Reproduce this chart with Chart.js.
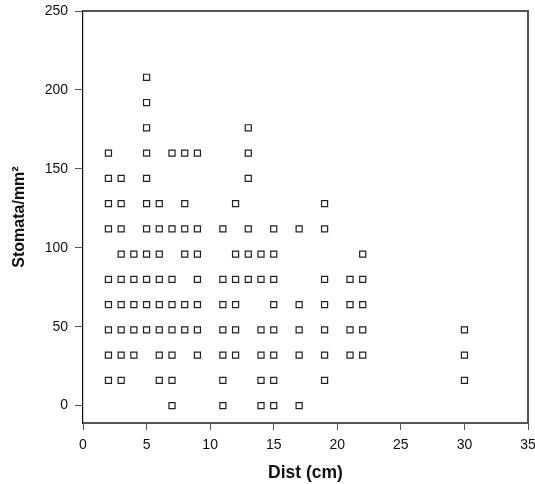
<!DOCTYPE html>
<html><head><meta charset="utf-8">
<script src="https://cdn.jsdelivr.net/npm/chart.js@4/dist/chart.umd.min.js"></script>
<style>html,body{margin:0;padding:0;background:#fff}canvas{display:block}</style>
</head><body>
<canvas id="c" width="535" height="484"></canvas>
<script>
// Distance (cm) of each sampled column
const distCm = [2, 3, 4, 5, 6, 7, 8, 9, 11, 12, 13, 14, 15, 17, 19, 21, 22, 30];
// Stomata/mm² observed at each distance (same order as distCm)
const stomataAt2  = [160, 144, 128, 112, 80, 64, 48, 32, 16];
const stomataAt3  = [144, 128, 112, 96, 80, 64, 48, 32, 16];
const stomataAt4  = [96, 80, 64, 48, 32];
const stomataAt5  = [208, 192, 176, 160, 144, 128, 112, 96, 80, 64, 48];
const stomataAt6  = [128, 112, 96, 80, 64, 48, 32, 16];
const stomataAt7  = [160, 112, 80, 64, 48, 32, 16, 0];
const stomataAt8  = [160, 128, 112, 96, 64, 48];
const stomataAt9  = [160, 112, 96, 80, 64, 48, 32];
const stomataAt11 = [112, 80, 64, 48, 32, 16, 0];
const stomataAt12 = [128, 96, 80, 64, 48, 32];
const stomataAt13 = [176, 160, 144, 112, 96, 80];
const stomataAt14 = [96, 80, 48, 32, 16, 0];
const stomataAt15 = [112, 96, 80, 64, 48, 32, 16, 0];
const stomataAt17 = [112, 64, 48, 32, 0];
const stomataAt19 = [128, 112, 80, 64, 48, 32, 16];
const stomataAt21 = [80, 64, 48, 32];
const stomataAt22 = [96, 80, 64, 48, 32];
const stomataAt30 = [48, 32, 16];
const stomataLists = [stomataAt2, stomataAt3, stomataAt4, stomataAt5, stomataAt6, stomataAt7,
  stomataAt8, stomataAt9, stomataAt11, stomataAt12, stomataAt13, stomataAt14, stomataAt15,
  stomataAt17, stomataAt19, stomataAt21, stomataAt22, stomataAt30];

const xTicks = [0, 5, 10, 15, 20, 25, 30, 35];
const yTicks = [0, 50, 100, 150, 200, 250];
const xTitle = 'Dist (cm)';
const yTitle = 'Stomata/mm\u00B2';

const points = [];
distCm.forEach((d, i) => stomataLists[i].forEach(v => points.push({x: d, y: v})));

const framePlugin = {
  id: 'frame',
  afterDraw(chart) {
    const a = chart.chartArea, ctx = chart.ctx;
    ctx.save();
    ctx.strokeStyle = '#555';
    ctx.lineWidth = 2;
    ctx.beginPath();
    ctx.moveTo(a.left, a.top);
    ctx.lineTo(a.right, a.top);
    ctx.lineTo(a.right, a.bottom);
    ctx.stroke();
    ctx.restore();
  }
};

const tickFont = {family: 'Liberation Sans, Arial, sans-serif', size: 14};

new Chart(document.getElementById('c'), {
  type: 'scatter',
  data: {
    datasets: [{
      data: points,
      pointStyle: 'rect',
      pointRadius: 4.3,
      pointBorderWidth: 1.2,
      pointBorderColor: '#222',
      pointBackgroundColor: '#fff',
      pointHoverRadius: 4.3
    }]
  },
  options: {
    responsive: false,
    animation: false,
    events: [],
    layout: {padding: {top: 11, right: 7, left: 0, bottom: 0}},
    plugins: {legend: {display: false}, tooltip: {enabled: false}},
    scales: {
      x: {
        type: 'linear', min: 0, max: 35,
        afterBuildTicks: s => { s.ticks = xTicks.map(v => ({value: v})); },
        afterFit: s => { s.height = 61; s.paddingRight = 0; s.paddingLeft = 0; },
        grid: {drawOnChartArea: false, tickLength: 7, color: '#555', tickWidth: 1},
        border: {color: '#555', width: 2},
        ticks: {font: tickFont, color: '#111', padding: 7, maxRotation: 0},
        title: {display: true, text: xTitle, color: '#111', padding: {top: 0, bottom: 0},
          font: {family: 'Liberation Sans, Arial, sans-serif', size: 17.5, weight: 'bold'}}
      },
      y: {
        type: 'linear', min: -11, max: 250,
        afterBuildTicks: s => { s.ticks = yTicks.map(v => ({value: v})); },
        afterFit: s => { s.width = 83; s.paddingTop = 0; s.paddingBottom = 0; },
        grid: {drawOnChartArea: false, tickLength: 8, color: '#555', tickWidth: 1},
        border: {color: '#111', width: 1.2},
        ticks: {font: tickFont, color: '#111', padding: 7},
        title: {display: true, text: yTitle, color: '#111', padding: {top: 10, bottom: 0},
          font: {family: 'Liberation Sans, Arial, sans-serif', size: 16, weight: 'bold'}}
      }
    }
  },
  plugins: [framePlugin]
});
</script>
</body></html>
